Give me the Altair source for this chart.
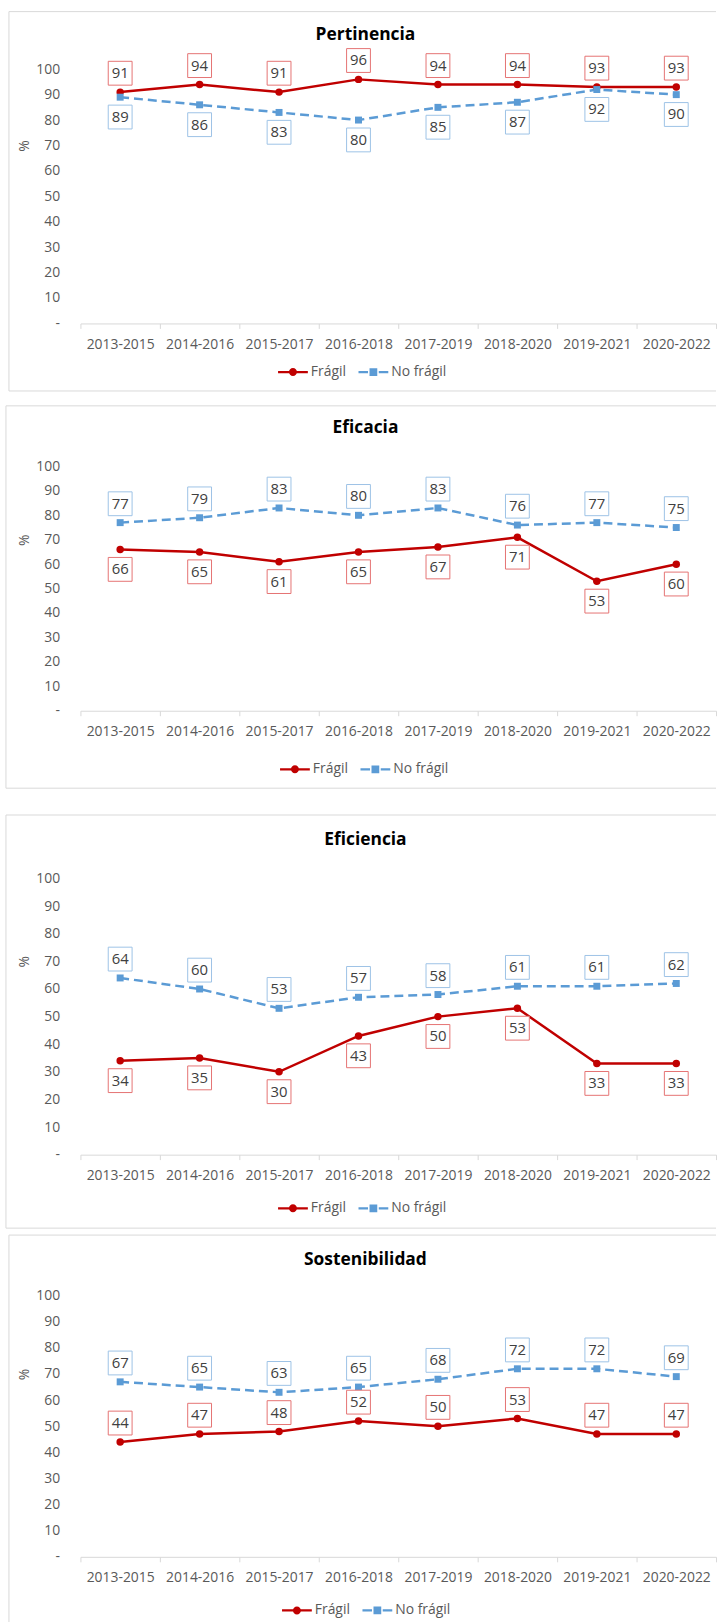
import altair as alt
import pandas as pd

# ---- data -------------------------------------------------------------
periods = ["2013-2015", "2014-2016", "2015-2017", "2016-2018",
           "2017-2019", "2018-2020", "2019-2021", "2020-2022"]
series_names = ["Frágil", "No frágil"]

pertinencia_fragil = [91, 94, 91, 96, 94, 94, 93, 93]
pertinencia_no_fragil = [89, 86, 83, 80, 85, 87, 92, 90]

eficacia_fragil = [66, 65, 61, 65, 67, 71, 53, 60]
eficacia_no_fragil = [77, 79, 83, 80, 83, 76, 77, 75]

eficiencia_fragil = [34, 35, 30, 43, 50, 53, 33, 33]
eficiencia_no_fragil = [64, 60, 53, 57, 58, 61, 61, 62]

sostenibilidad_fragil = [44, 47, 48, 52, 50, 53, 47, 47]
sostenibilidad_no_fragil = [67, 65, 63, 65, 68, 72, 72, 69]

y_ticks = list(range(0, 101, 10))

# ---- styling ----------------------------------------------------------
FONT = "Open Sans"
RED = "#C00000"
BLUE = "#5B9BD5"
RED_BOX = "#E57373"
BLUE_BOX = "#9DC3E6"
FRAME_GREY = "#D9D9D9"
TEXT_GREY = "#595959"
LABEL_GREY = "#404040"
PLOT_W = 640
AXIS_FS = 14

# legend keys: a line segment with the series marker, in the unit square
SYM_FRAGIL = ("M-1,-0.075H1V0.075H-1Z "
              "M-0.27,0A0.27,0.27 0 1,1 0.27,0A0.27,0.27 0 1,1 -0.27,0Z")
SYM_NO_FRAGIL = ("M-1,-0.075H-0.36V0.075H-1Z M0.36,-0.075H1V0.075H0.36Z "
                 "M-0.26,-0.26H0.26V0.26H-0.26Z")

panels = [
    dict(title="Pertinencia", fragil=pertinencia_fragil, no_fragil=pertinencia_no_fragil,
         height=256, frame_top=-58, frame_bottom=324, cell_bottom=338, frame_left=-72,
         title_y=-34, legend_x=199, legend_y=290, fragil_up=True, no_fragil_up=False),
    dict(title="Eficacia", fragil=eficacia_fragil, no_fragil=eficacia_no_fragil,
         height=246, frame_top=-61, frame_bottom=324, cell_bottom=350, frame_left=-75,
         title_y=-39, legend_x=201, legend_y=290, fragil_up=False, no_fragil_up=True),
    dict(title="Eficiencia", fragil=eficiencia_fragil, no_fragil=eficiencia_no_fragil,
         height=278, frame_top=-64, frame_bottom=352, cell_bottom=358, frame_left=-75,
         title_y=-39, legend_x=199, legend_y=317, fragil_up=False, no_fragil_up=True),
    dict(title="Sostenibilidad", fragil=sostenibilidad_fragil, no_fragil=sostenibilidad_no_fragil,
         height=263, frame_top=-61, frame_bottom=334, cell_bottom=334, frame_left=-72,
         title_y=-36, legend_x=203, legend_y=302, fragil_up=True, no_fragil_up=True),
]


def build_panel(p):
    h = p["height"]
    df = pd.DataFrame({
        "periodo": periods * 2,
        "serie": [series_names[0]] * len(periods) + [series_names[1]] * len(periods),
        "valor": p["fragil"] + p["no_fragil"],
    })
    base = alt.Chart(df)

    x = alt.X(
        "periodo:N", sort=periods,
        scale=alt.Scale(type="band", paddingInner=0, paddingOuter=0),
        axis=alt.Axis(title=None, labelAngle=0, labelFont=FONT, labelFontSize=AXIS_FS,
                      labelColor=TEXT_GREY, domainColor=FRAME_GREY, tickColor=FRAME_GREY,
                      tickSize=5, tickBand="extent", labelPadding=9, grid=False),
    )
    y = alt.Y(
        "valor:Q",
        scale=alt.Scale(domain=[0, 100], nice=False),
        axis=alt.Axis(title="%", values=y_ticks,
                      labelExpr="datum.value == 0 ? '-' : datum.label",
                      domain=False, ticks=False, tickSize=0, grid=False, labelPadding=21,
                      labelFont=FONT, labelFontSize=AXIS_FS, labelColor=TEXT_GREY,
                      titleAngle=270, titleX=-56, titleY=0.3 * h, titleFont=FONT,
                      titleFontSize=AXIS_FS, titleFontWeight="normal", titleColor=TEXT_GREY,
                      titleAlign="center", titleBaseline="middle"),
    )

    frag = base.transform_filter(alt.datum.serie == series_names[0])
    nofrag = base.transform_filter(alt.datum.serie == series_names[1])

    line_f = frag.mark_line(color=RED, strokeWidth=2.5).encode(x=x, y=y)
    line_n = nofrag.mark_line(color=BLUE, strokeWidth=2.5, strokeDash=[9, 5]).encode(x=x, y=y)
    dots_f = frag.mark_point(shape="circle", filled=True, color=RED, size=56,
                             opacity=1).encode(x=x, y=y)
    dots_n = nofrag.mark_point(shape="square", filled=True, color=BLUE, size=49,
                               opacity=1).encode(x=x, y=y)

    def value_labels(layer, up, box_color):
        off = -19 if up else 20
        box = layer.mark_point(shape="square", filled=True, fill="white", stroke=box_color,
                               strokeWidth=1, size=576, opacity=1,
                               yOffset=off).encode(x=x, y=y)
        txt = layer.mark_text(font=FONT, fontSize=15, color=LABEL_GREY, baseline="middle",
                              align="center", yOffset=off).encode(
            x=x, y=y, text=alt.Text("valor:Q", format="d"))
        return box + txt

    labels_f = value_labels(frag, p["fragil_up"], RED_BOX)
    labels_n = value_labels(nofrag, p["no_fragil_up"], BLUE_BOX)

    # series key: color + custom line-and-marker symbols
    key_legend = alt.Legend(title=None, orient="none", legendX=p["legend_x"],
                            legendY=p["legend_y"], direction="horizontal", symbolSize=900,
                            symbolStrokeWidth=0, labelFont=FONT, labelFontSize=AXIS_FS,
                            labelColor=TEXT_GREY, labelOffset=3, columnPadding=12, padding=0)
    key = base.transform_filter("false").mark_point(filled=True, size=900, opacity=1).encode(
        x=x, y=y,
        color=alt.Color("serie:N", scale=alt.Scale(domain=series_names, range=[RED, BLUE]),
                        legend=key_legend),
        shape=alt.Shape("serie:N",
                        scale=alt.Scale(domain=series_names,
                                        range=[SYM_FRAGIL, SYM_NO_FRAGIL]),
                        legend=key_legend),
    )

    # panel frame and heading
    one = alt.Chart(pd.DataFrame({"k": [0]}))
    fl, ft, fb = p["frame_left"], p["frame_top"], p["frame_bottom"]
    frame_top = one.mark_rule(color=FRAME_GREY, strokeWidth=1).encode(
        x=alt.value(fl), x2=alt.value(PLOT_W), y=alt.value(ft))
    frame_bottom = one.mark_rule(color=FRAME_GREY, strokeWidth=1).encode(
        x=alt.value(fl), x2=alt.value(PLOT_W), y=alt.value(fb))
    frame_left = one.mark_rule(color=FRAME_GREY, strokeWidth=1).encode(
        x=alt.value(fl), y=alt.value(ft), y2=alt.value(fb))
    spacer = one.mark_rule(opacity=0).encode(
        x=alt.value(0), x2=alt.value(1), y=alt.value(p["cell_bottom"]))
    heading = one.mark_text(text=p["title"], font=FONT, fontSize=17.5, fontWeight="bold",
                            color="black", align="center", baseline="middle").encode(
        x=alt.value(287), y=alt.value(p["title_y"]))

    return alt.layer(
        frame_top, frame_bottom, frame_left, spacer, heading,
        line_f, line_n, dots_f, dots_n, labels_f, labels_n, key,
    ).properties(width=PLOT_W, height=h)


chart = alt.vconcat(*[build_panel(p) for p in panels], spacing=0).resolve_scale(
    color="independent", shape="independent"
).resolve_legend(
    color="independent", shape="independent"
).properties(
    padding={"left": 5, "top": 5, "right": 0, "bottom": 0},
    background="white",
).configure_view(strokeWidth=0)

chart.save("out.html", embed_options={"renderer": "svg", "actions": False})
